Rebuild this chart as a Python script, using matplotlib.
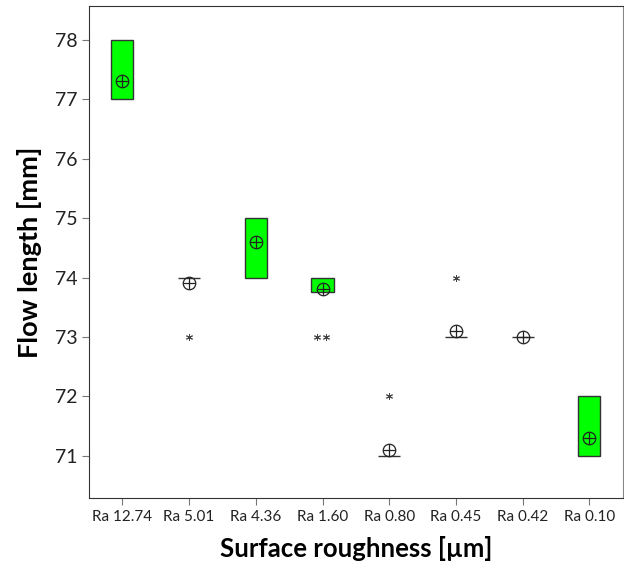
import matplotlib
matplotlib.use("Agg")
import matplotlib.pyplot as plt

# Flow length by surface roughness (boxplot summary)
labels   = ["Ra 12.74", "Ra 5.01", "Ra 4.36", "Ra 1.60", "Ra 0.80", "Ra 0.45", "Ra 0.42", "Ra 0.10"]
q1       = [77.0, 74.0, 74.0, 73.75, 71.0, 73.0, 73.0, 71.0]
q3       = [78.0, 74.0, 75.0, 74.0, 71.0, 73.0, 73.0, 72.0]
means    = [77.3, 73.9, 74.6, 73.8, 71.1, 73.1, 73.0, 71.3]
# outliers: (group index, value)
out_idx  = [1, 3, 3, 4, 5]
out_val  = [73.0, 73.0, 73.0, 72.0, 74.0]
out_dx   = [0.0, -0.08, 0.05, 0.0, 0.0]   # jitter for duplicate points

BOX_GREEN = "#00ff00"
EDGE      = "#333333"
FONT      = "Lato"

plt.rcParams["font.family"] = [FONT, "DejaVu Sans"]

fig = plt.figure(figsize=(6.24, 5.67), dpi=100)
ax = fig.add_axes([0.1426, 0.1217, 0.8554, 0.8677])

x = list(range(len(labels)))
bw = 0.33

for i in x:
    if q3[i] > q1[i]:
        ax.bar(i, q3[i] - q1[i], bottom=q1[i], width=bw, color=BOX_GREEN,
               edgecolor=EDGE, linewidth=1.0, zorder=2)
    else:
        ax.hlines(q1[i], i - bw / 2, i + bw / 2, color=EDGE, linewidth=1.0, zorder=2)

# mean symbol: circle with cross
ax.plot(x, means, "o", markersize=9, markerfacecolor="none",
        markeredgecolor="#222222", markeredgewidth=0.9, zorder=3)
ax.plot(x, means, "+", markersize=9, color="#222222", markeredgewidth=0.9, zorder=3)

# outliers
ox = [out_idx[k] + out_dx[k] for k in range(len(out_idx))]
ax.plot(ox, out_val, linestyle="none", marker=(6, 2, 0), markersize=5,
        color="#444444", markeredgewidth=0.7, zorder=3)

ax.set_xlim(-0.5, 7.5)
ax.set_ylim(70.29, 78.57)
ax.set_yticks([71, 72, 73, 74, 75, 76, 77, 78])
ax.set_xticks(x)
ax.set_xticklabels(labels, fontsize=11)
ax.tick_params(axis="y", labelsize=14, length=5, color="#777777", labelcolor="#222222")
ax.tick_params(axis="x", length=5, color="#777777", labelcolor="#222222")

for side in ["left", "bottom", "top"]:
    ax.spines[side].set_color("#333333")
ax.spines["right"].set_color("#888888")

ax.set_xlabel("Surface roughness [µm]", fontsize=18.5, fontweight="bold", labelpad=9)
ax.set_ylabel("Flow length [mm]", fontsize=19.5, fontweight="bold", labelpad=9)

fig.savefig("out.png", dpi=100)
